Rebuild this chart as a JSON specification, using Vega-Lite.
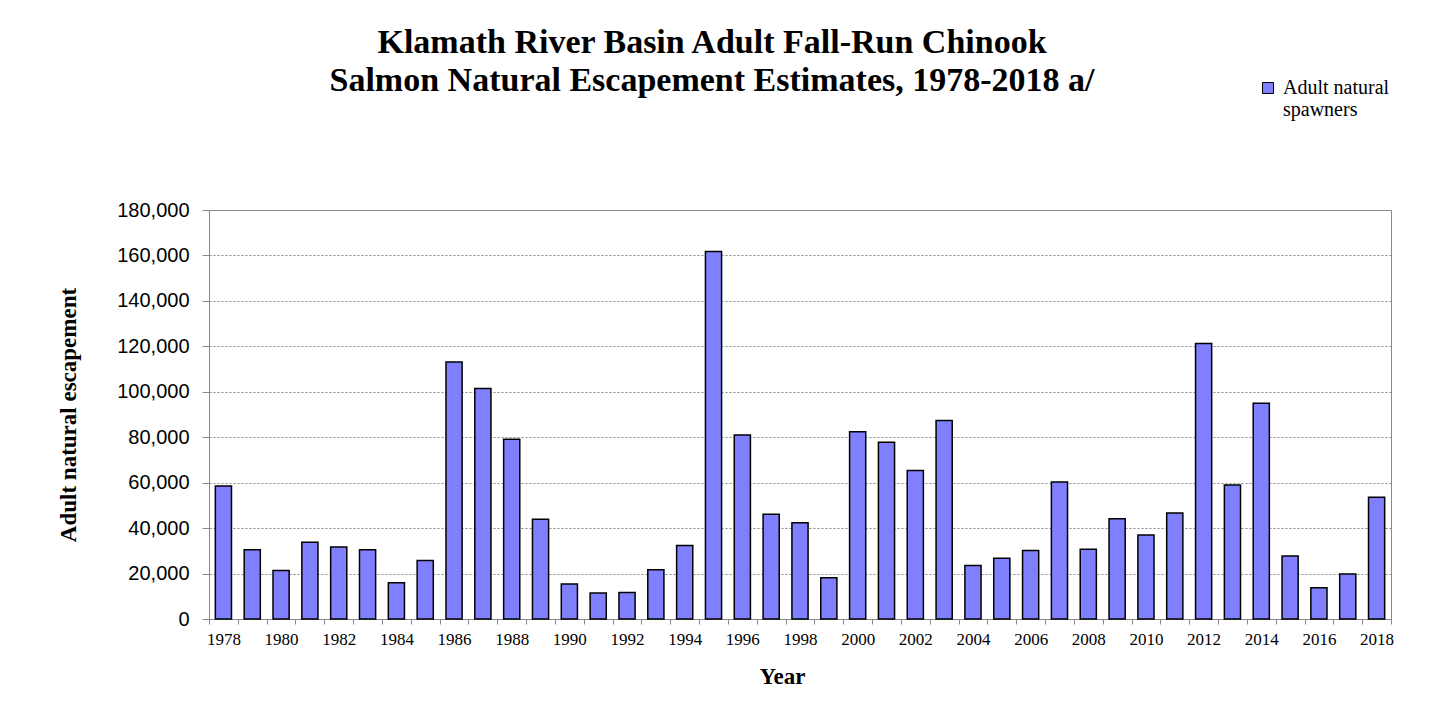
{
  "$schema": "https://vega.github.io/schema/vega-lite/v6.json",
  "width": 1182,
  "height": 409,
  "autosize": {"type": "none"},
  "padding": {"left": 209, "top": 210, "right": 54, "bottom": 84},
  "background": "white",
  "config": {"view": {"stroke": "#888888", "strokeWidth": 1}},
  "title": {
    "text": ["Klamath River Basin Adult Fall-Run Chinook", "Salmon Natural Escapement Estimates, 1978-2018 a/"],
    "font": "Liberation Serif",
    "fontSize": 34,
    "fontWeight": "bold",
    "color": "black",
    "lineHeight": 38,
    "anchor": "middle",
    "dx": -88,
    "offset": -20
  },
  "data": {
    "values": [
      {"year": 1978, "spawners": 58500},
      {"year": 1979, "spawners": 30500},
      {"year": 1980, "spawners": 21300},
      {"year": 1981, "spawners": 33800},
      {"year": 1982, "spawners": 31700},
      {"year": 1983, "spawners": 30500},
      {"year": 1984, "spawners": 15900},
      {"year": 1985, "spawners": 25700},
      {"year": 1986, "spawners": 113100},
      {"year": 1987, "spawners": 101400},
      {"year": 1988, "spawners": 79100},
      {"year": 1989, "spawners": 43900},
      {"year": 1990, "spawners": 15400},
      {"year": 1991, "spawners": 11400},
      {"year": 1992, "spawners": 11700},
      {"year": 1993, "spawners": 21700},
      {"year": 1994, "spawners": 32300},
      {"year": 1995, "spawners": 161700},
      {"year": 1996, "spawners": 81000},
      {"year": 1997, "spawners": 46100},
      {"year": 1998, "spawners": 42400},
      {"year": 1999, "spawners": 18200},
      {"year": 2000, "spawners": 82400},
      {"year": 2001, "spawners": 77800},
      {"year": 2002, "spawners": 65300},
      {"year": 2003, "spawners": 87400},
      {"year": 2004, "spawners": 23600},
      {"year": 2005, "spawners": 26700},
      {"year": 2006, "spawners": 30100},
      {"year": 2007, "spawners": 60300},
      {"year": 2008, "spawners": 30700},
      {"year": 2009, "spawners": 44100},
      {"year": 2010, "spawners": 37000},
      {"year": 2011, "spawners": 46700},
      {"year": 2012, "spawners": 121300},
      {"year": 2013, "spawners": 59000},
      {"year": 2014, "spawners": 94900},
      {"year": 2015, "spawners": 27700},
      {"year": 2016, "spawners": 13800},
      {"year": 2017, "spawners": 19800},
      {"year": 2018, "spawners": 53600}
    ]
  },
  "mark": {"type": "bar", "stroke": "black", "strokeWidth": 1.5, "width": {"band": 0.56}},
  "encoding": {
    "x": {
      "field": "year",
      "type": "ordinal",
      "scale": {"paddingInner": 0, "paddingOuter": 0},
      "axis": {
        "title": "Year",
        "titleFont": "Liberation Serif",
        "titleFontSize": 23,
        "titleFontWeight": "bold",
        "titleColor": "black",
        "titleX": 573,
        "titlePadding": 18,
        "labelAngle": 0,
        "labelFont": "Liberation Serif",
        "labelFontSize": 17,
        "labelColor": "black",
        "labelPadding": 7,
        "labelOverlap": false,
        "labelExpr": "datum.value % 2 == 0 ? datum.label : ''",
        "tickBand": "extent",
        "tickSize": 5,
        "tickColor": "#888888",
        "domainColor": "#888888",
        "grid": false
      }
    },
    "y": {
      "field": "spawners",
      "type": "quantitative",
      "scale": {"domain": [0, 180000]},
      "axis": {
        "title": "Adult natural escapement",
        "titleFont": "Liberation Serif",
        "titleFontSize": 23,
        "titleFontWeight": "bold",
        "titleColor": "black",
        "titlePadding": 36,
        "labelFont": "Liberation Sans",
        "labelFontSize": 20,
        "labelColor": "black",
        "labelPadding": 13,
        "format": ",d",
        "values": [0, 20000, 40000, 60000, 80000, 100000, 120000, 140000, 160000, 180000],
        "tickSize": 7,
        "tickColor": "#888888",
        "domainColor": "#888888",
        "gridColor": "#888888",
        "gridDash": [2, 2]
      }
    },
    "color": {
      "datum": "Adult natural spawners",
      "scale": {"range": ["#8080FF"]},
      "legend": {
        "orient": "none",
        "legendX": 1049,
        "legendY": -132,
        "title": null,
        "symbolType": "square",
        "symbolSize": 121,
        "symbolStrokeColor": "black",
        "symbolStrokeWidth": 1,
        "symbolOpacity": 1,
        "labelOffset": 5,
        "labelFont": "Liberation Serif",
        "labelFontSize": 20,
        "labelColor": "black",
        "labelLimit": 300,
        "labelExpr": "['Adult natural', 'spawners']"
      }
    }
  }
}
